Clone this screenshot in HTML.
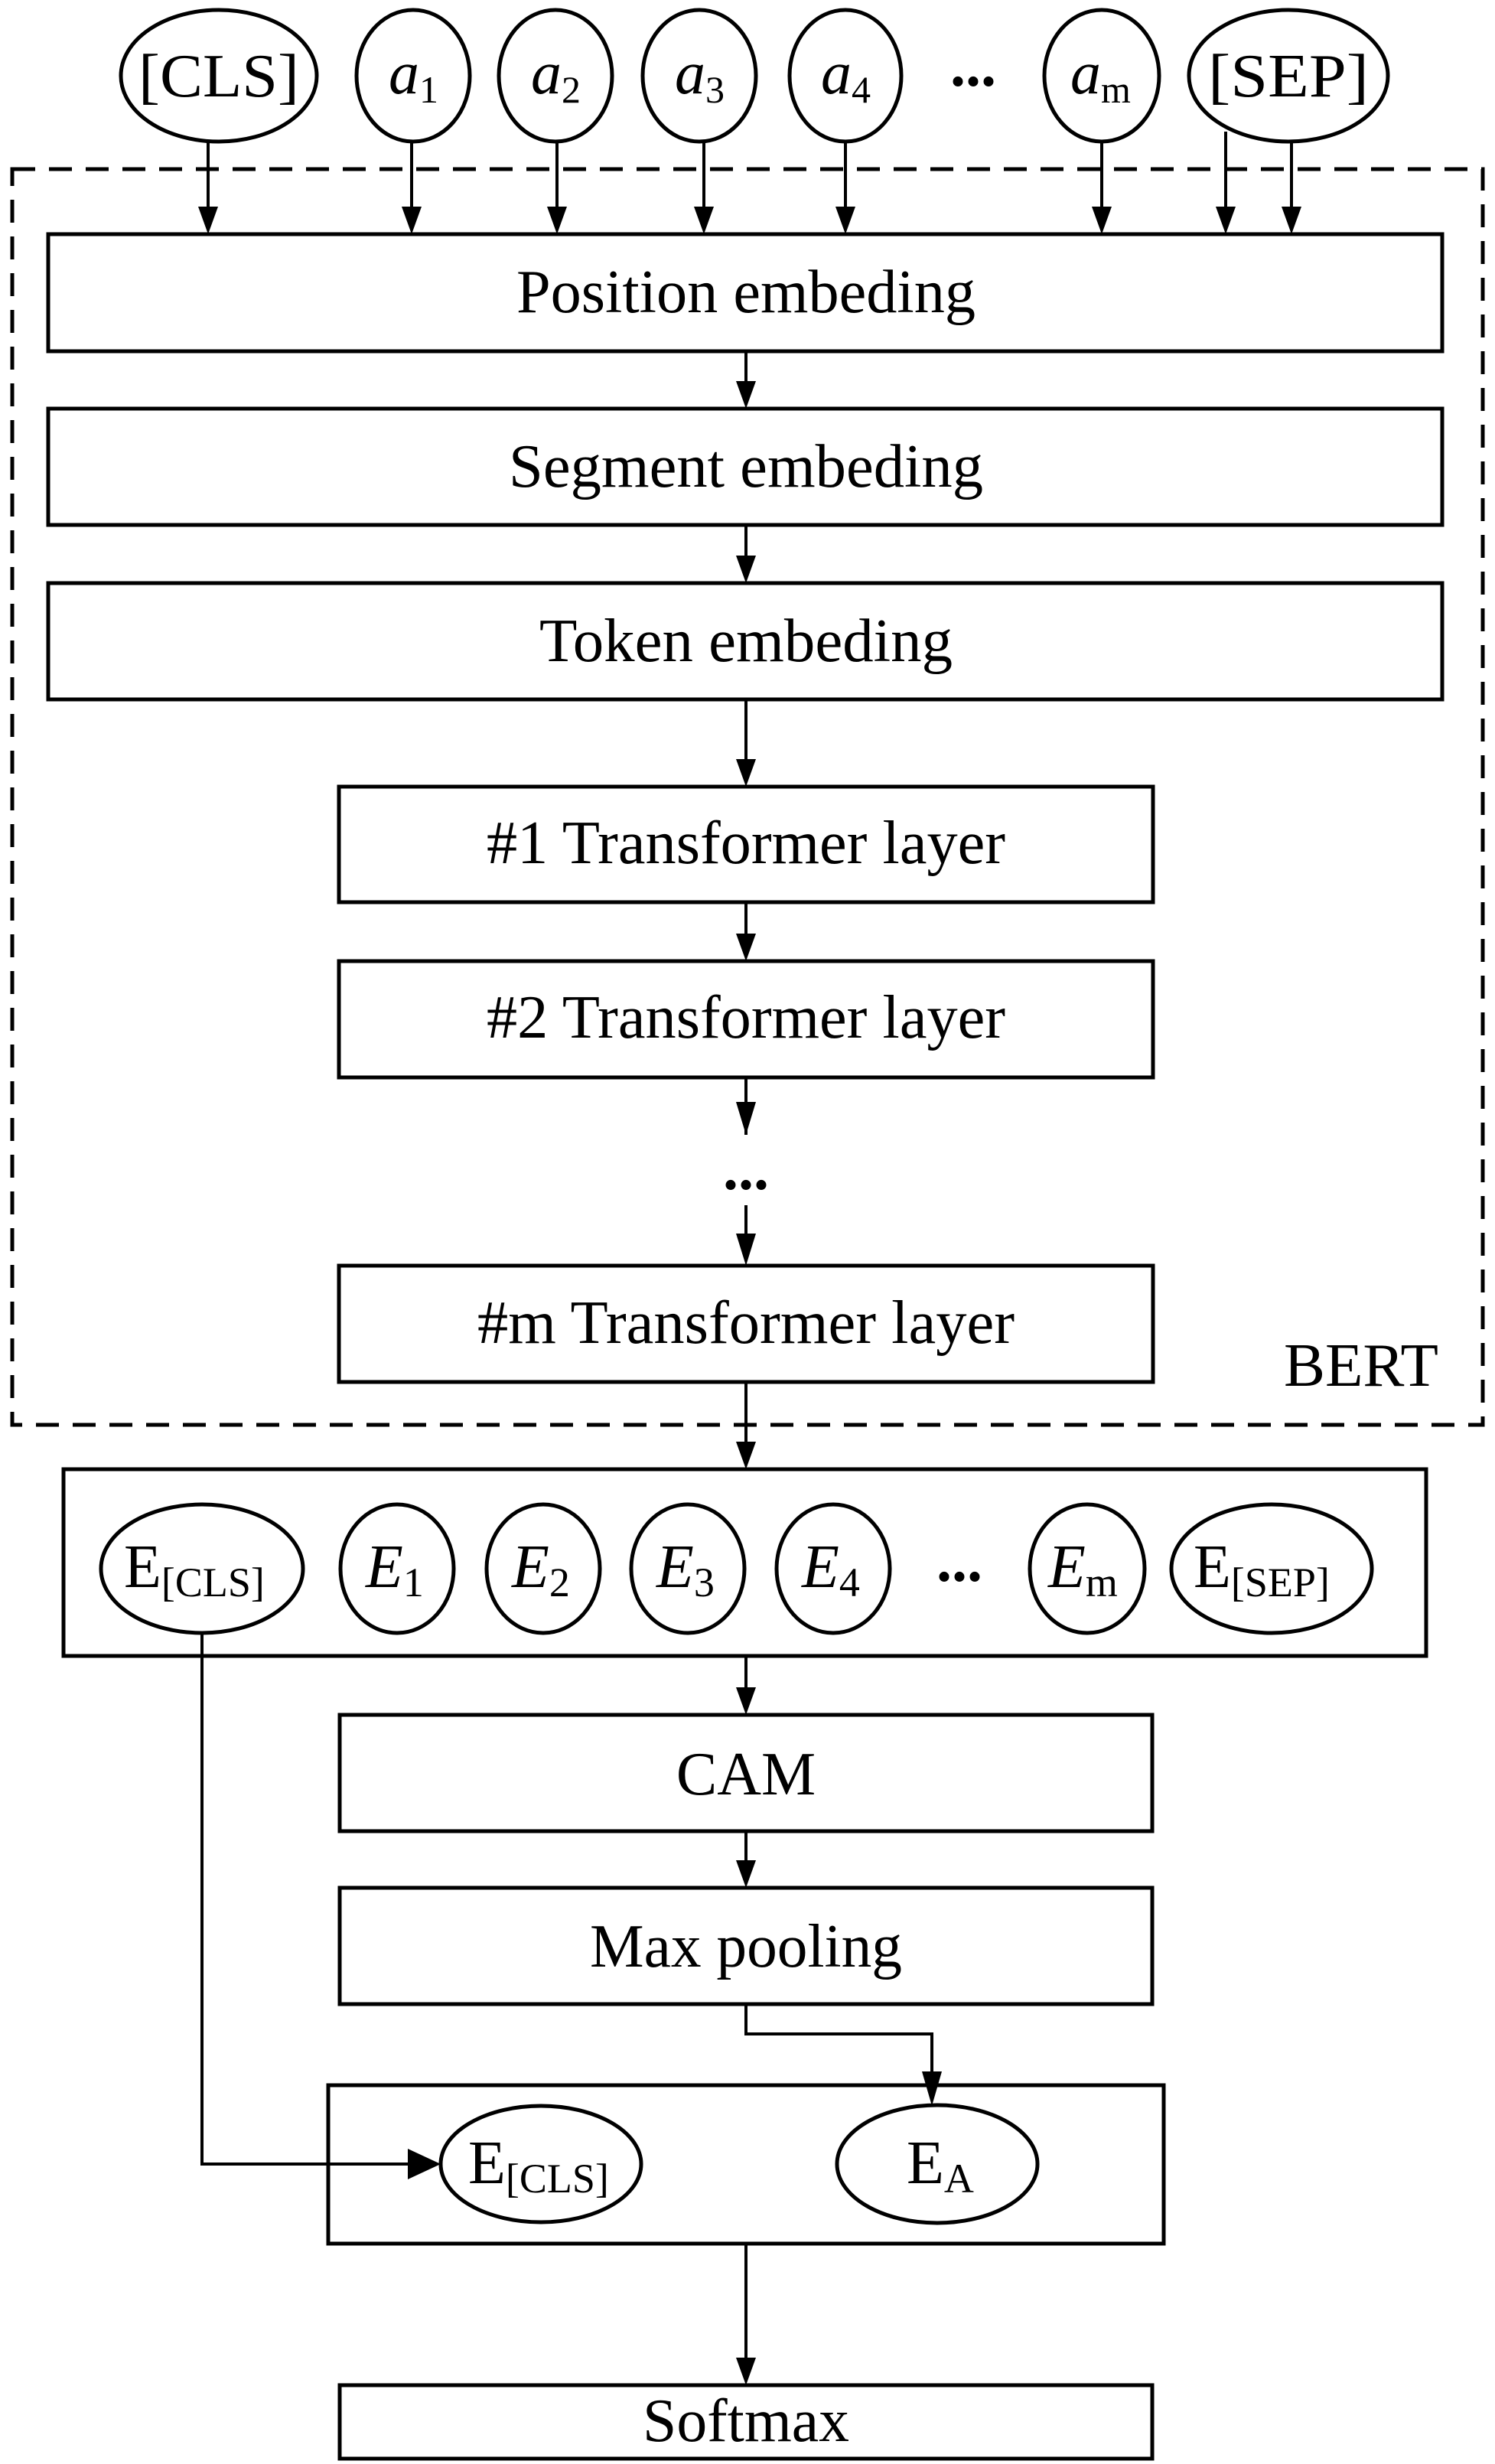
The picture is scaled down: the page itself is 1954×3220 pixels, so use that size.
<!DOCTYPE html>
<html><head><meta charset="utf-8"><style>
html,body{margin:0;padding:0;background:#fff;}
svg{display:block;}
text{font-family:"Liberation Serif",serif;fill:#000;}
</style></head><body>
<svg width="1954" height="3220" viewBox="0 0 1954 3220" xmlns="http://www.w3.org/2000/svg">
<g fill="none" stroke="#000" stroke-width="5">
<ellipse cx="286" cy="99" rx="128" ry="86"/>
<ellipse cx="540" cy="99" rx="74" ry="86"/>
<ellipse cx="726" cy="99" rx="74" ry="86"/>
<ellipse cx="914" cy="99" rx="74" ry="86"/>
<ellipse cx="1105" cy="99" rx="73" ry="86"/>
<ellipse cx="1440" cy="99" rx="75" ry="86"/>
<ellipse cx="1684" cy="99" rx="130" ry="86"/>
<rect x="16" y="221" width="1922" height="1641" stroke-dasharray="30,18"/>
<rect x="63" y="306" width="1822" height="153"/>
<rect x="63" y="534" width="1822" height="152"/>
<rect x="63" y="762" width="1822" height="152"/>
<rect x="443" y="1028" width="1064" height="151"/>
<rect x="443" y="1256" width="1064" height="152"/>
<rect x="443" y="1654" width="1064" height="152"/>
<rect x="83" y="1920" width="1781" height="244"/>
<rect x="444" y="2241" width="1062" height="152"/>
<rect x="444" y="2467" width="1062" height="152"/>
<rect x="429" y="2725" width="1092" height="207"/>
<rect x="444" y="3117" width="1062" height="96"/>
<ellipse cx="264" cy="2050" rx="132" ry="84"/>
<ellipse cx="519" cy="2050" rx="74" ry="84"/>
<ellipse cx="710" cy="2050" rx="74" ry="84"/>
<ellipse cx="899" cy="2050" rx="74" ry="84"/>
<ellipse cx="1089" cy="2050" rx="74" ry="84"/>
<ellipse cx="1421" cy="2050" rx="75" ry="84"/>
<ellipse cx="1662" cy="2050" rx="131" ry="84"/>
<ellipse cx="707" cy="2828" rx="131" ry="76"/>
<ellipse cx="1225" cy="2828" rx="131" ry="77"/>
</g>
<g fill="none" stroke="#000" stroke-width="4">
<line x1="272" y1="185" x2="272" y2="280"/>
<line x1="538" y1="185" x2="538" y2="280"/>
<line x1="728" y1="185" x2="728" y2="280"/>
<line x1="920" y1="185" x2="920" y2="280"/>
<line x1="1105" y1="185" x2="1105" y2="280"/>
<line x1="1440" y1="185" x2="1440" y2="280"/>
<line x1="1602" y1="172" x2="1602" y2="280"/>
<line x1="1688" y1="185" x2="1688" y2="280"/>
<line x1="975" y1="459" x2="975" y2="510"/>
<line x1="975" y1="686" x2="975" y2="738"/>
<line x1="975" y1="914" x2="975" y2="1002"/>
<line x1="975" y1="1179" x2="975" y2="1232"/>
<line x1="975" y1="1408" x2="975" y2="1483"/>
<line x1="975" y1="1575" x2="975" y2="1628"/>
<line x1="975" y1="1806" x2="975" y2="1895"/>
<line x1="975" y1="2164" x2="975" y2="2216"/>
<line x1="975" y1="2393" x2="975" y2="2442"/>
<polyline points="975,2619 975,2658 1218,2658 1218,2725"/>
<polyline points="264,2134 264,2828 548,2828"/>
<line x1="975" y1="2932" x2="975" y2="3092"/>
</g>
<g fill="#000">
<polygon points="259,270 285,270 272,306"/>
<polygon points="525,270 551,270 538,306"/>
<polygon points="715,270 741,270 728,306"/>
<polygon points="907,270 933,270 920,306"/>
<polygon points="1092,270 1118,270 1105,306"/>
<polygon points="1427,270 1453,270 1440,306"/>
<polygon points="1589,270 1615,270 1602,306"/>
<polygon points="1675,270 1701,270 1688,306"/>
<polygon points="962,498 988,498 975,534"/>
<polygon points="962,726 988,726 975,762"/>
<polygon points="962,992 988,992 975,1028"/>
<polygon points="962,1220 988,1220 975,1256"/>
<polygon points="962,1440 988,1440 975,1483"/>
<polygon points="962,1612 988,1612 975,1654"/>
<polygon points="962,1884 988,1884 975,1920"/>
<polygon points="962,2205 988,2205 975,2241"/>
<polygon points="962,2431 988,2431 975,2467"/>
<polygon points="1205,2707 1231,2707 1218,2752"/>
<polygon points="533,2808 533,2848 576,2828"/>
<polygon points="962,3081 988,3081 975,3117"/>
</g>
<g font-size="80">
<text x="286" y="126" text-anchor="middle" textLength="210" lengthAdjust="spacingAndGlyphs">[CLS]</text>
<text x="1684" y="126" text-anchor="middle" textLength="210" lengthAdjust="spacingAndGlyphs">[SEP]</text>
<text x="508" y="122" font-style="italic">a<tspan font-size="50" font-style="normal" dy="12">1</tspan></text>
<text x="694" y="122" font-style="italic">a<tspan font-size="50" font-style="normal" dy="12">2</tspan></text>
<text x="882" y="122" font-style="italic">a<tspan font-size="50" font-style="normal" dy="12">3</tspan></text>
<text x="1073" y="122" font-style="italic">a<tspan font-size="50" font-style="normal" dy="12">4</tspan></text>
<text x="1399" y="122" font-style="italic">a<tspan font-size="50" font-style="normal" dy="12">m</tspan></text>
<text x="1272" y="112" text-anchor="middle" font-weight="bold">...</text>
<text x="975" y="408" text-anchor="middle" textLength="600" lengthAdjust="spacingAndGlyphs">Position embeding</text>
<text x="975" y="636" text-anchor="middle" textLength="620" lengthAdjust="spacingAndGlyphs">Segment embeding</text>
<text x="975" y="864" text-anchor="middle" textLength="540" lengthAdjust="spacingAndGlyphs">Token embeding</text>
<text x="975" y="1128" text-anchor="middle" textLength="678" lengthAdjust="spacingAndGlyphs">#1 Transformer layer</text>
<text x="975" y="1356" text-anchor="middle" textLength="678" lengthAdjust="spacingAndGlyphs">#2 Transformer layer</text>
<text x="975" y="1554" text-anchor="middle" font-weight="bold">...</text>
<text x="975" y="1755" text-anchor="middle" textLength="702" lengthAdjust="spacingAndGlyphs">#m Transformer layer</text>
<text x="1678" y="1811" textLength="202" lengthAdjust="spacingAndGlyphs">BERT</text>
<text x="162" y="2074">E<tspan font-size="54" dy="12">[CLS]</tspan></text>
<text x="478" y="2074" font-style="italic">E<tspan font-size="54" font-style="normal" dy="12">1</tspan></text>
<text x="669" y="2074" font-style="italic">E<tspan font-size="54" font-style="normal" dy="12">2</tspan></text>
<text x="858" y="2074" font-style="italic">E<tspan font-size="54" font-style="normal" dy="12">3</tspan></text>
<text x="1048" y="2074" font-style="italic">E<tspan font-size="54" font-style="normal" dy="12">4</tspan></text>
<text x="1254" y="2066" text-anchor="middle" font-weight="bold">...</text>
<text x="1370" y="2074" font-style="italic">E<tspan font-size="54" font-style="normal" dy="12">m</tspan></text>
<text x="1560" y="2074">E<tspan font-size="54" dy="12">[SEP]</tspan></text>
<text x="975" y="2345" text-anchor="middle">CAM</text>
<text x="975" y="2570" text-anchor="middle" textLength="408" lengthAdjust="spacingAndGlyphs">Max pooling</text>
<text x="612" y="2853">E<tspan font-size="54" dy="12">[CLS]</tspan></text>
<text x="1185" y="2853">E<tspan font-size="54" dy="12">A</tspan></text>
<text x="975" y="3190" text-anchor="middle" textLength="270" lengthAdjust="spacingAndGlyphs">Softmax</text>
</g>
</svg>
</body></html>
